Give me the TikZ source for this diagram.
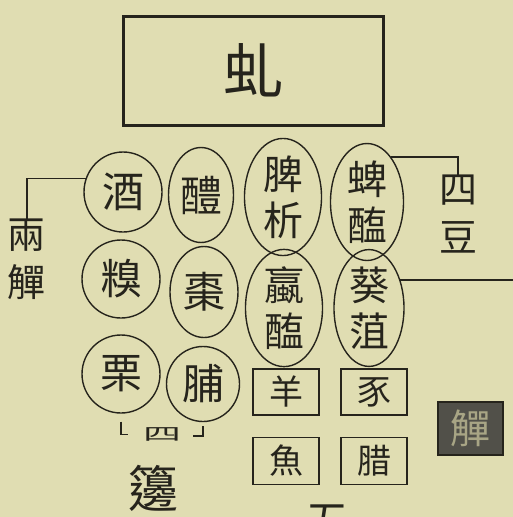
\documentclass[tikz,border=0pt]{standalone}
\usepackage{fontspec}
\usepackage{graphicx}
\newfontfamily\tc{Noto Sans CJK TC}
\usetikzlibrary{shapes.geometric}
\definecolor{paper}{RGB}{224,221,178}
\definecolor{ink}{RGB}{38,36,28}

\begin{document}
\begin{tikzpicture}[x=1pt,y=-1pt,
		dish/.style={draw=ink,line width=1.4pt,ellipse,inner sep=0pt,text=ink,align=center,
			font=\tc\fontsize{42}{46}\selectfont},
		pair/.style={dish,font=\tc\fontsize{40}{46}\selectfont},
		zu/.style={draw=ink,line width=1.8pt,rectangle,inner sep=0pt,text=ink,
			minimum width=66pt,minimum height=46pt,font=\tc\fontsize{34}{34}\selectfont},
		tag/.style={text=ink,inner sep=0pt,align=center,font=\tc\fontsize{38}{48}\selectfont},
		lead/.style={draw=ink,line width=1.5pt}]
		\useasboundingbox[fill=paper] (0,0) rectangle (513,517);
		% mat
		\node[draw=ink,line width=3pt,minimum width=260pt,minimum height=109pt,text=ink,
			font=\tc\fontsize{60}{60}\selectfont] (xi) at (253.5,70.5) {虬};
		% two cups, four bian
		\node[dish,minimum width=78pt,minimum height=80pt] (jiu) at (123,192) {酒};
		\node[dish,minimum width=78pt,minimum height=78pt] (qiu) at (121,279) {糗};
		\node[dish,minimum width=78pt,minimum height=78pt] (li) at (121,374) {栗};
		\node[dish,minimum width=65pt,minimum height=95pt] (liq) at (201,195) {醴};
		\node[dish,minimum width=68pt,minimum height=91pt] (zao) at (204,292) {棗};
		\node[dish,minimum width=73pt,minimum height=75pt] (fu) at (203,384) {脯};
		% four dou
		\node[pair,minimum width=77pt,minimum height=110pt] (pixi) at (283,197) {脾\\析};
		\node[pair,minimum width=77pt,minimum height=107pt] (luo) at (284,308) {蠃\\醢};
		\node[pair,minimum width=73pt,minimum height=105pt] (bi) at (367,202) {蜱\\醢};
		\node[pair,minimum width=70pt,minimum height=107pt] (kui) at (369,308) {葵\\菹};
		% five zu
		\node[zu] (yang) at (286,392) {羊};
		\node[zu] (shi) at (374,392) {豕};
		\node[zu,minimum height=47pt] (yu) at (286,461) {魚};
		\node[zu,minimum height=47pt] (xi2) at (374,461) {腊};
		\node[draw=ink,fill=ink!80,line width=2pt,minimum width=65pt,minimum height=53pt,
			text=paper!70!ink,font=\tc\fontsize{40}{40}\selectfont] (zhi) at (470,428) {觶};
		% labels
		\node[tag,anchor=north] (liangzhi) at (27,219) {兩\\觶};
		\node[tag,anchor=north] (sidou) at (458,175) {四\\豆};
		\node[tag] (si) at (162,434) {\scalebox{1}[0.45]{四}};
		\node[tag,font=\tc\fontsize{50}{50}\selectfont] (bian) at (153,488) {籩};
		\node[tag,font=\tc\fontsize{44}{44}\selectfont] (wu) at (327,522) {五};
		\coordinate (rim) at (513,280);
		% leaders
		\draw[lead] (jiu.160) -| (liangzhi.north);
		\draw[lead] (bi.62) -| (sidou.north);
		\draw[lead] (kui.42) -- (kui.42 -| rim);
		\draw[lead] ([yshift=-8pt]li.south) -- ++(0,13) -- ++(7,0);
		\draw[lead] ([yshift=-4pt]fu.south) -- ++(0,10) -- ++(-10,0);
	\end{tikzpicture}
\end{document}
